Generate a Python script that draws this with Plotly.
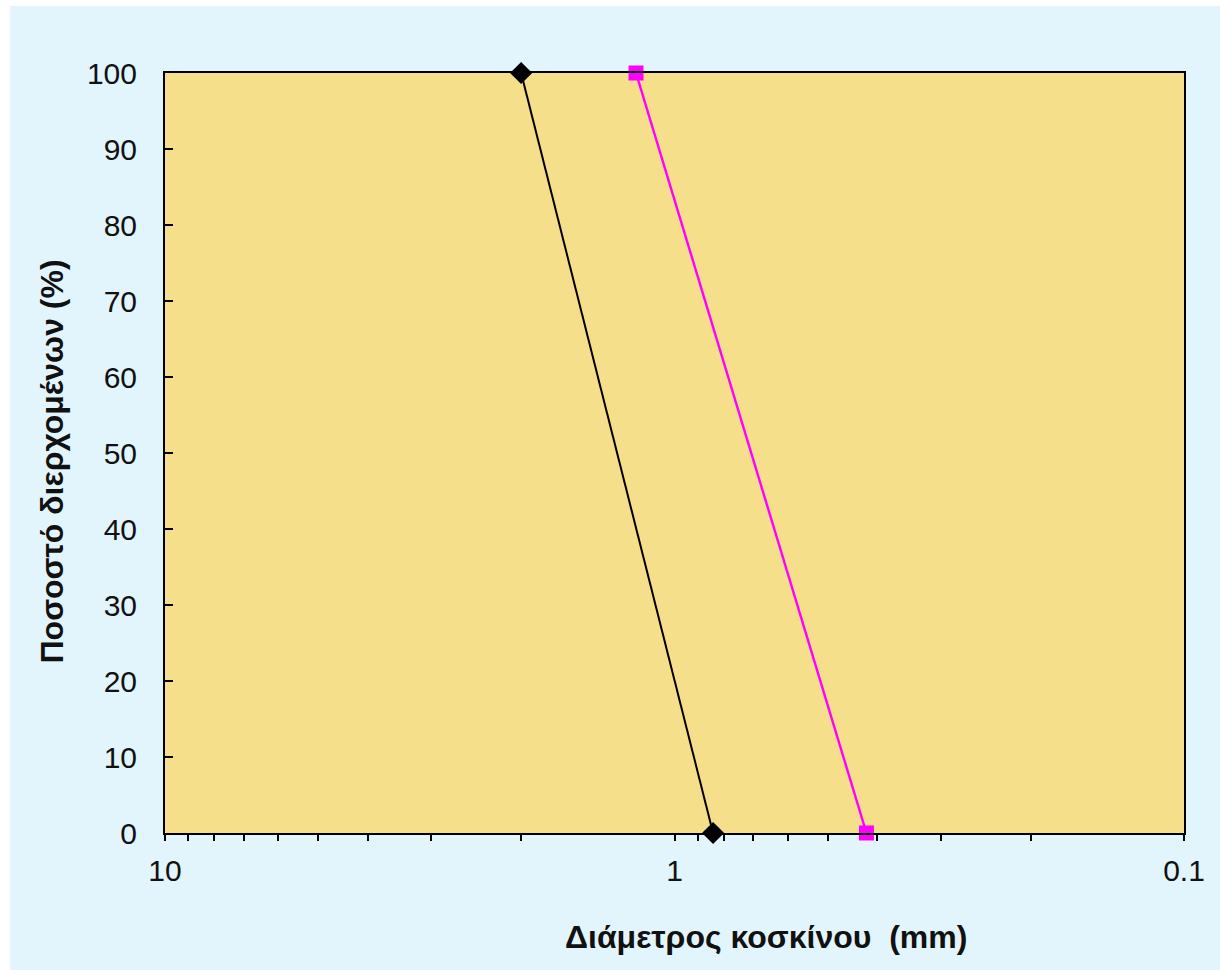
import plotly.graph_objects as go

# Data
black_diameter = [2.0, 0.84]
black_passing = [100, 0]
pink_diameter = [1.19, 0.42]
pink_passing = [100, 0]

x_major = [10, 1, 0.1]
x_minor = [9, 8, 7, 6, 5, 4, 3, 2, 0.9, 0.8, 0.7, 0.6, 0.5, 0.4, 0.3, 0.2]
y_ticks = [0, 10, 20, 30, 40, 50, 60, 70, 80, 90, 100]

x_title = "Διάμετρος κοσκίνου  (mm)"
y_title = "Ποσοστό διερχομένων (%)"

tickvals = x_major + x_minor
ticktext = ["10", "1", "0.1"] + [""] * len(x_minor)

FONT = "Liberation Sans, Arial, sans-serif"

fig = go.Figure()
fig.add_trace(go.Scatter(
    x=black_diameter, y=black_passing, mode="lines+markers",
    line=dict(color="#000000", width=2),
    marker=dict(symbol="diamond", size=17, color="#000000"),
    cliponaxis=False, showlegend=False,
))
fig.add_trace(go.Scatter(
    x=pink_diameter, y=pink_passing, mode="lines+markers",
    line=dict(color="#FF00FF", width=2.4),
    marker=dict(symbol="square", size=15, color="#FF00FF"),
    cliponaxis=False, showlegend=False,
))

fig.update_layout(
    width=1220, height=970,
    margin=dict(l=165, r=36, t=73, b=137),
    paper_bgcolor="#E2F5FD",
    plot_bgcolor="#F5DF8A",
    font=dict(family=FONT, size=30, color="#111111"),
    shapes=[
        dict(type="rect", xref="paper", yref="paper", x0=-0.3, x1=-0.152, y0=-0.3, y1=1.3,
             fillcolor="#FFFFFF", line=dict(width=0), layer="below"),
        dict(type="rect", xref="paper", yref="paper", x0=-0.3, x1=1.3, y0=1.088, y1=1.3,
             fillcolor="#FFFFFF", line=dict(width=0), layer="below"),
    ],
    annotations=[
        dict(text="<b>" + x_title + "</b>", xref="paper", yref="paper",
             x=0.5898, y=-0.1368, xanchor="center", yanchor="middle",
             showarrow=False, font=dict(size=32, family=FONT, color="#111111")),
        dict(text="<b>" + y_title + "</b>", xref="paper", yref="paper",
             x=-0.1109, y=0.4888, xanchor="center", yanchor="middle", textangle=-90,
             showarrow=False, font=dict(size=32, family=FONT, color="#111111")),
    ],
)

fig.update_xaxes(
    type="log", range=[1, -1],
    tickvals=tickvals, ticktext=ticktext,
    ticks="outside", ticklen=6, tickwidth=2, tickcolor="#000000",
    showline=True, linecolor="#000000", linewidth=2, mirror=True,
    showgrid=False, zeroline=False,
    tickfont=dict(size=30, family=FONT),
    ticklabelstandoff=4,
)
fig.update_yaxes(
    range=[0, 100], tickvals=y_ticks,
    ticks="inside", ticklen=8, tickwidth=2, tickcolor="#000000",
    showline=True, linecolor="#000000", linewidth=2, mirror=True,
    showgrid=False, zeroline=False,
    tickfont=dict(size=30, family=FONT),
    ticklabelstandoff=20,
)

fig.write_html("out.html")
